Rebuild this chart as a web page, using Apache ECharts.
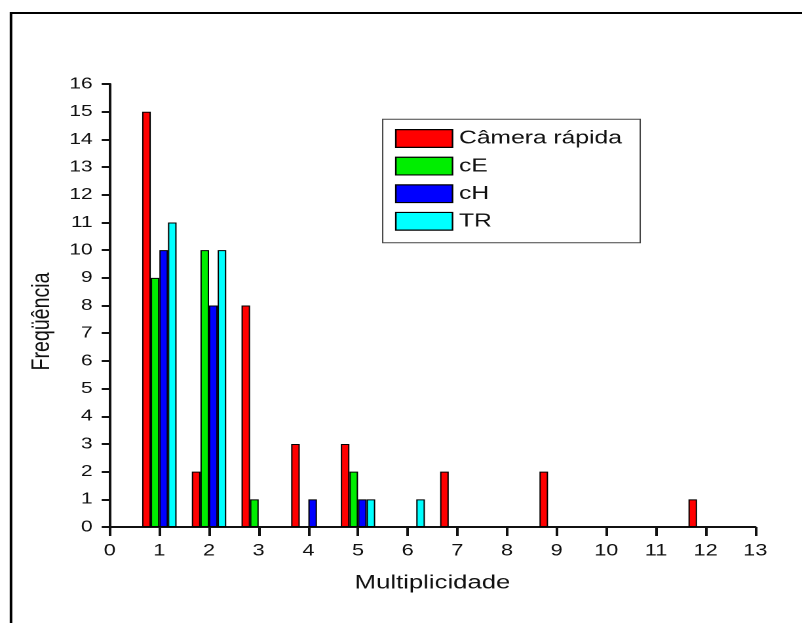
<!DOCTYPE html>
<html>
<head>
<meta charset="utf-8">
<script src="https://cdn.jsdelivr.net/npm/echarts@6/dist/echarts.min.js"></script>
<style>
  html, body { margin: 0; padding: 0; background: #fff; }
  #wrap { width: 802px; height: 623px; overflow: hidden; position: relative; background: #fff; }
  #main { width: 612px; height: 623px; transform: scaleX(1.3105); transform-origin: 0 0; }
</style>
</head>
<body>
<div id="wrap"><div id="main"></div></div>
<script>
// ---- data ----
const categories = ['0','1','2','3','4','5','6','7','8','9','10','11','12','13'];
const seriesNames = ['Câmera rápida', 'cE', 'cH', 'TR'];
const camera = [0, 15, 2, 8, 3, 3, 0, 2, 0, 2, 0, 0, 1, 0];
const cE     = [0,  9, 10, 1, 0, 2, 0, 0, 0, 0, 0, 0, 0, 0];
const cH     = [0, 10, 8, 0, 1, 1, 0, 0, 0, 0, 0, 0, 0, 0];
const TR     = [0, 11, 10, 0, 0, 1, 1, 0, 0, 0, 0, 0, 0, 0];
const yTicks = [0, 16, 1]; // min, max, interval
const xTitle = 'Multiplicidade';
const yTitle = 'Freqüência';

// ---- styles ----
const colors = ['#ff0000', '#00ee00', '#0000ff', '#00ffff'];
const FONT = '"Liberation Sans", Arial, sans-serif';
const S = 1.3105; // horizontal stretch of the original figure

const chart = echarts.init(document.getElementById('main'), null, { renderer: 'canvas', devicePixelRatio: 2 });

function toBars(arr) { return arr.map(v => (v === 0 ? '-' : v)); }
const allData = [camera, cE, cH, TR];

const option = {
  animation: false,
  backgroundColor: '#ffffff',
  textStyle: { fontFamily: FONT },
  graphic: [
    { type: 'rect', shape: { x: 11 / S, y: 13, width: 2000, height: 2000 },
      style: { fill: 'none', stroke: '#000', lineWidth: 2 }, silent: true }
  ],
  grid: { left: 109.7 / S, right: 612 - 755.3 / S, top: 84, bottom: 96, containLabel: false },
  legend: {
    orient: 'vertical',
    left: 382.7 / S,
    top: 119.3,
    padding: [9.7, 14, 12, 9.4],
    backgroundColor: '#fff',
    borderColor: '#444',
    borderWidth: 1,
    itemWidth: 56.7 / S,
    itemHeight: 17.7,
    itemGap: 8.6,
    icon: 'rect',
    itemStyle: { borderColor: '#000', borderWidth: 1.2 },
    textStyle: { fontFamily: FONT, fontSize: 18.8, color: '#111', lineHeight: 18 },
    data: seriesNames
  },
  xAxis: {
    type: 'category',
    data: categories,
    boundaryGap: false,
    name: xTitle,
    nameLocation: 'middle',
    nameGap: 46,
    nameTextStyle: { fontFamily: FONT, fontSize: 19.6, color: '#111' },
    axisLine: { show: true, onZero: false, lineStyle: { color: '#111', width: 2 } },
    axisTick: { show: true, inside: false, length: 9, interval: 0, lineStyle: { color: '#111', width: 2 } },
    axisLabel: { show: true, interval: 0, margin: 15.5, fontFamily: FONT, fontSize: 16.5, color: '#111' },
    splitLine: { show: false }
  },
  yAxis: {
    type: 'value',
    min: yTicks[0],
    max: yTicks[1],
    interval: yTicks[2],
    name: yTitle,
    nameLocation: 'middle',
    nameGap: 40,
    nameRotate: 90,
    nameTextStyle: { fontFamily: FONT, fontSize: 19.6, color: '#111', padding: [0, 32, 0, 0] },
    axisLine: { show: true, lineStyle: { color: '#111', width: 2 } },
    axisTick: { show: true, inside: false, length: 8 / S, lineStyle: { color: '#111', width: 2 } },
    axisLabel: { show: true, margin: 13, fontFamily: FONT, fontSize: 16, color: '#111' },
    splitLine: { show: false }
  },
  series: seriesNames.map((name, i) => ({
    name: name,
    type: 'bar',
    data: toBars(allData[i]),
    barWidth: 8.6 / S,
    barGap: '0%',
    itemStyle: { color: colors[i], borderColor: '#000', borderWidth: 1 },
    emphasis: { disabled: true }
  }))
};

chart.setOption(option);
</script>
</body>
</html>
